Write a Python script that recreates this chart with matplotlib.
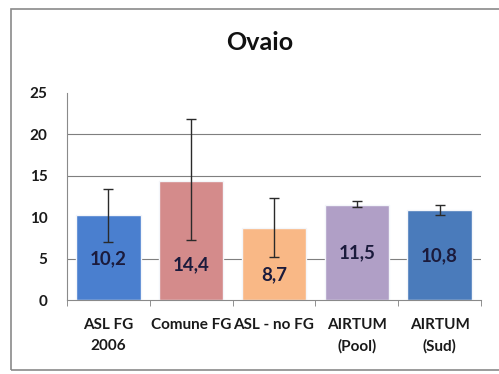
import matplotlib.pyplot as plt
from matplotlib.patches import Rectangle
import numpy as np

# data
categories = ['ASL FG\n2006', 'Comune FG', 'ASL - no FG', 'AIRTUM\n(Pool)', 'AIRTUM\n(Sud)']
values = [10.2, 14.4, 8.7, 11.5, 10.8]
labels = ['10,2', '14,4', '8,7', '11,5', '10,8']
err_low = [7.0, 7.2, 5.2, 11.2, 10.2]
err_high = [13.4, 21.8, 12.3, 11.9, 11.5]
colors = ['#4a7fcf', '#d48b8b', '#f9b886', '#b09fc6', '#4a7bbb']
label_y = [5.0, 4.2, 3.0, 5.7, 5.3]

plt.rcParams['font.family'] = ['Lato', 'DejaVu Sans']

fig = plt.figure(figsize=(4.99, 3.74), dpi=100)
fig.patches.append(Rectangle((11/499, 4/374), 1.0, 361/374, transform=fig.transFigure,
                             fill=False, edgecolor='#8a8a8a', linewidth=1.2))

ax = fig.add_axes([67/499, 74/374, 414/499, 207.3/374])
x = np.arange(len(values))
vals = np.array(values)
yerr = [vals - np.array(err_low), np.array(err_high) - vals]

# gridlines
for g in [5, 15, 20]:
    ax.axhline(g, color='#7f7f7f', linewidth=0.8, zorder=0)

ax.bar(x, values, width=0.78, color=colors, edgecolor='#f4f6fa', linewidth=1.0, zorder=2)
ax.errorbar(x, values, yerr=yerr, fmt='none', ecolor='#2a2a2a', elinewidth=1.0,
            capsize=3.5, capthick=1.0, zorder=3)

for xi, lab, ly in zip(x, labels, label_y):
    ax.text(xi, ly, lab, ha='center', va='center', fontsize=13.5, fontweight='bold',
            color='#1b1b3c', zorder=4)

ax.set_xlim(-0.5, len(values) - 0.5)
ax.set_ylim(0, 25)
ax.set_yticks([0, 5, 10, 15, 20, 25])
ax.tick_params(axis='y', length=0, pad=14, labelsize=11, labelcolor='#1a1a1a')
for t in ax.get_yticklabels():
    t.set_fontweight('bold')

ax.set_xticks(x)
ax.set_xticklabels(categories, fontsize=11, fontweight='bold', color='#1a1a1a', linespacing=1.6)
ax.tick_params(axis='x', length=0, pad=13)
ax.set_xticks(np.arange(len(values) + 1) - 0.5, minor=True)
ax.tick_params(axis='x', which='minor', length=4, color='#7f7f7f', direction='out')

for s in ['top', 'right']:
    ax.spines[s].set_visible(False)
ax.spines['left'].set_color('#8a8a8a')
ax.spines['bottom'].set_color('#8a8a8a')

fig.text(260/499, 1 - 43/374, 'Ovaio', ha='center', va='center', fontsize=18,
         fontweight='bold', color='#111111')

plt.savefig('out.png', dpi=100)
